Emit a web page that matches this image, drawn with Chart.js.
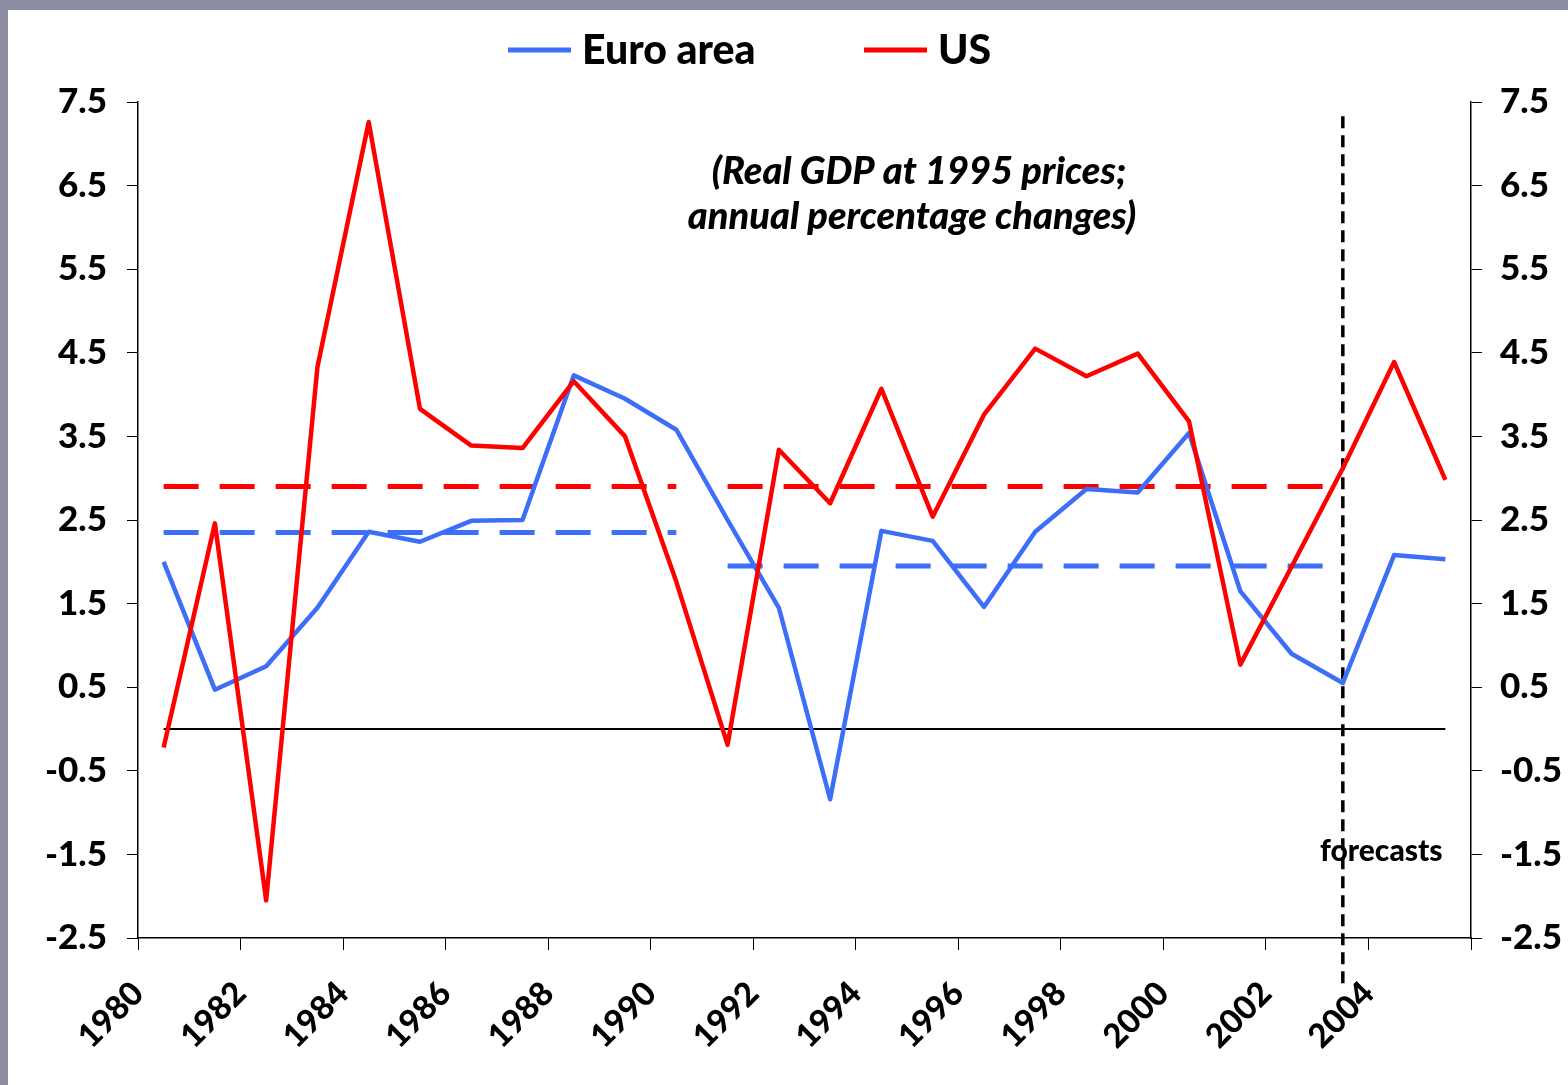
<!DOCTYPE html>
<html>
<head>
<meta charset="utf-8">
<title>Real GDP growth: Euro area vs US</title>
<script src="https://cdn.jsdelivr.net/npm/chart.js@4.4.1/dist/chart.umd.min.js"></script>
<style>
    html, body { margin: 0; padding: 0; background: #8c8da3; }
    #wrap { width: 1568px; height: 1085px; position: relative; }
</style>
</head>
<body>
<div id="wrap"><canvas id="gdpChart"></canvas></div>
<script>
// Données (croissance annuelle du PIB réel, %)
const years = [1980, 1981, 1982, 1983, 1984, 1985, 1986, 1987, 1988, 1989, 1990, 1991, 1992,
    1993, 1994, 1995, 1996, 1997, 1998, 1999, 2000, 2001, 2002, 2003, 2004, 2005];
const euroArea = [2.0, 0.47, 0.75, 1.45, 2.36, 2.24, 2.49, 2.5, 4.23, 3.95, 3.58, 2.5, 1.45,
    -0.84, 2.37, 2.25, 1.46, 2.36, 2.87, 2.83, 3.54, 1.65, 0.9, 0.55, 2.08, 2.03];
const usGdp = [-0.22, 2.46, -2.05, 4.33, 7.26, 3.83, 3.39, 3.36, 4.16, 3.5, 1.76, -0.19, 3.34,
    2.7, 4.07, 2.54, 3.76, 4.55, 4.22, 4.49, 3.68, 0.77, 1.94, 3.12, 4.39, 2.98];

// Moyennes par période (lignes en tirets)
const avgPeriods = [[1980, 1990], [1991, 2003]];
const euroAvg = [2.35, 1.95];
const usAvg = [2.9, 2.9];

// Début des prévisions et étendue verticale du trait
const forecastYear = 2003;
const forecastSpan = [7.33, -3.12];

// Axes
const yTicks = [-2.5, -1.5, -0.5, 0.5, 1.5, 2.5, 3.5, 4.5, 5.5, 6.5, 7.5];
const xTicks = [1980, 1982, 1984, 1986, 1988, 1990, 1992, 1994, 1996, 1998, 2000, 2002, 2004, 2006];
const xTickLabels = ['1980', '1982', '1984', '1986', '1988', '1990', '1992', '1994', '1996',
    '1998', '2000', '2002', '2004', ''];

const BLUE = '#3d6ef7';
const RED = '#ff0000';
const FONT = 'Lato, "DejaVu Sans", sans-serif';

// Chaque année est tracée au milieu de son intervalle
const pts = (vals) => years.map((yr, i) => ({ x: yr + 0.5, y: vals[i] }));
const avgPts = (period, v) => years
    .filter(yr => yr >= period[0] && yr <= period[1])
    .map(yr => ({ x: yr + 0.5, y: v }));

function avgDataset(period, v, color) {
    return {
        label: 'avg',
        data: avgPts(period, v),
        borderColor: color,
        borderWidth: 5,
        borderDash: [35, 21],
        pointRadius: 0,
        order: 2
    };
}

const backgroundPlugin = {
    id: 'slideBackground',
    beforeDraw(chart) {
        const ctx = chart.ctx;
        ctx.save();
        ctx.fillStyle = '#8c8da3';
        ctx.fillRect(0, 0, chart.width, chart.height);
        ctx.fillStyle = '#ffffff';
        ctx.fillRect(8, 10, chart.width - 8, chart.height - 10);
        ctx.restore();
    }
};

const annotationsPlugin = {
    id: 'textAnnotations',
    afterDraw(chart) {
        const ctx = chart.ctx;
        ctx.save();
        ctx.fillStyle = '#000';
        ctx.textBaseline = 'middle';

        // Légende
        const legend = [
            { x: 508, text: 'Euro area', color: BLUE },
            { x: 864, text: 'US', color: RED }
        ];
        ctx.font = '900 41px ' + FONT;
        legend.forEach(item => {
            ctx.strokeStyle = item.color;
            ctx.lineWidth = 5;
            ctx.beginPath();
            ctx.moveTo(item.x, 50);
            ctx.lineTo(item.x + 63, 50);
            ctx.stroke();
            ctx.textAlign = 'left';
            ctx.fillText(item.text, item.x + 74, 51);
        });

        // Sous-titre
        ctx.font = 'italic 900 38px ' + FONT;
        ctx.textAlign = 'center';
        ctx.fillText('(Real GDP at 1995 prices;', 919, 172);
        ctx.fillText('annual percentage changes)', 912, 217);

        // Prévisions
        ctx.font = '900 30px ' + FONT;
        ctx.textAlign = 'left';
        ctx.fillText('forecasts', 1320, 851);
        ctx.restore();
    }
};

const ctx = document.getElementById('gdpChart').getContext('2d');
new Chart(ctx, {
    type: 'line',
    data: {
        datasets: [
            {
                label: 'US',
                data: pts(usGdp),
                borderColor: RED,
                borderWidth: 4.5,
                borderJoinStyle: 'round',
                pointRadius: 0,
                order: 0
            },
            {
                label: 'Euro area',
                data: pts(euroArea),
                borderColor: BLUE,
                borderWidth: 4.5,
                borderJoinStyle: 'round',
                pointRadius: 0,
                order: 1
            },
            avgDataset(avgPeriods[0], euroAvg[0], BLUE),
            avgDataset(avgPeriods[1], euroAvg[1], BLUE),
            avgDataset(avgPeriods[0], usAvg[0], RED),
            avgDataset(avgPeriods[1], usAvg[1], RED),
            {
                label: 'zero',
                data: pts(years.map(() => 0)),
                borderColor: '#000',
                borderWidth: 2,
                pointRadius: 0,
                order: 3
            },
            {
                label: 'forecast',
                data: forecastSpan.map(v => ({ x: forecastYear + 0.5, y: v })),
                borderColor: '#000',
                borderWidth: 3.5,
                borderDash: [12, 7],
                pointRadius: 0,
                clip: false,
                order: 1.5
            }
        ]
    },
    options: {
        responsive: true,
        maintainAspectRatio: false,
        animation: false,
        layout: { padding: { top: 102, left: 0, right: 0, bottom: 0 } },
        plugins: {
            legend: { display: false },
            tooltip: { enabled: false }
        },
        scales: {
            x: {
                type: 'linear',
                min: 1980,
                max: 2006,
                afterBuildTicks: axis => { axis.ticks = xTicks.map(v => ({ value: v })); },
                afterFit: scale => { scale.height = 147; },
                grid: { drawOnChartArea: false, drawTicks: true, tickLength: 12, color: '#000' },
                border: { display: true, color: '#000', width: 1.5 },
                ticks: {
                    autoSkip: false,
                    minRotation: 45,
                    maxRotation: 45,
                    padding: 24,
                    color: '#000',
                    font: { family: FONT, size: 33, weight: '900' },
                    callback: v => xTickLabels[xTicks.indexOf(v)]
                }
            },
            y: {
                position: 'left',
                min: -2.5,
                max: 7.5,
                afterBuildTicks: axis => { axis.ticks = yTicks.map(v => ({ value: v })); },
                afterFit: scale => { scale.width = 138; },
                grid: { drawOnChartArea: false, drawTicks: true, tickLength: 11, color: '#000' },
                border: { display: true, color: '#000', width: 1.5 },
                ticks: {
                    padding: 20,
                    color: '#000',
                    font: { family: FONT, size: 35, weight: '900' },
                    callback: v => v.toFixed(1)
                }
            },
            y2: {
                position: 'right',
                min: -2.5,
                max: 7.5,
                afterBuildTicks: axis => { axis.ticks = yTicks.map(v => ({ value: v })); },
                afterFit: scale => { scale.width = 97; },
                grid: { drawOnChartArea: false, drawTicks: true, tickLength: 11, color: '#000' },
                border: { display: true, color: '#000', width: 1.5 },
                ticks: {
                    padding: 18,
                    color: '#000',
                    font: { family: FONT, size: 35, weight: '900' },
                    callback: v => v.toFixed(1)
                }
            }
        }
    },
    plugins: [backgroundPlugin, annotationsPlugin]
});
</script>
</body>
</html>
